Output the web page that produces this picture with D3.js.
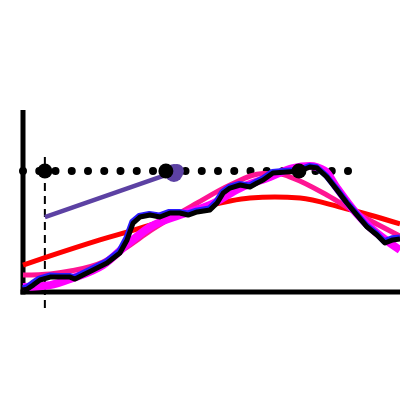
<!DOCTYPE html>
<html><head><meta charset="utf-8">
<script src="https://cdn.jsdelivr.net/npm/d3@7"></script>
<style>html,body{margin:0;padding:0;background:#fff;}svg{display:block;}</style>
</head><body>
<svg id="c" width="400" height="400"></svg>
<script>
// data (x, y) in chart units
const noisyBlack = [[0,1.1],[1.1,1.6],[2.7,3.8],[4.5,6.6],[7.2,8.2],[9.8,8.2],[12.5,8.2],[13.8,7.1],[15.9,9.3],[18.6,12.1],[22.3,15.9],[25.7,21.4],[27.6,28.6],[29.2,37.9],[31.0,41.2],[33.7,42.3],[36.3,41.2],[39.0,43.4],[41.6,43.4],[43.8,42.3],[46.2,44.0],[49.6,45.1],[51.5,48.9],[53.1,54.4],[54.9,57.1],[57.6,58.8],[60.2,57.7],[62.1,59.9],[63.7,61.5],[66.3,65.4],[70.0,65.9],[73.5,66.5],[76.1,68.7],[78.0,68.1],[80.6,63.2],[83.3,56.0],[85.9,48.9],[88.6,42.3],[91.3,35.7],[93.9,31.3],[96.0,26.9],[98.1,28.6],[100,29.1]];
const noisyBlue  = [[0,2.0],[1.0,2.7],[2.5,4.9],[4.3,7.4],[7.0,9.0],[9.6,8.8],[12.3,8.8],[13.6,8.0],[15.7,10.2],[18.4,13.0],[22.1,16.8],[25.5,22.3],[27.4,29.5],[29.0,38.6],[30.8,41.8],[33.5,42.9],[36.1,42.0],[38.8,44.0],[41.4,44.0],[43.6,43.1],[46.0,44.7],[49.4,45.9],[51.3,49.7],[52.9,55.0],[54.7,57.7],[57.4,59.4],[60.0,58.5],[61.9,60.6],[63.5,62.3],[66.1,66.0],[69.8,66.6],[73.3,67.1],[75.9,69.2],[77.8,68.7],[80.4,64.0],[83.1,56.9],[85.7,49.8],[88.4,43.2],[91.1,36.6],[93.7,32.2],[95.8,27.8],[97.9,29.5],[100,30.0]];
const fitRed     = [[0,14.8],[7.2,19.8],[20.4,28.6],[33.7,36.8],[46.9,46.2],[54.9,50.0],[60.2,51.6],[66.8,52.2],[73.5,51.6],[84.1,46.7],[92.0,42.3],[100,37.4]];
const fitPink    = [[0,9.3],[7.2,9.9],[12.5,11.5],[21.2,16.5],[27.6,24.7],[33.7,33.5],[46.2,48.9],[54.9,58.8],[63.7,65.1],[68.2,64.8],[71.6,62.6],[80.6,53.3],[89.4,42.3],[100,30.8]];
const fitMagenta = [[0,2.7],[7.2,3.8],[13.3,7.7],[21.2,14.8],[28.4,27.5],[33.7,35.7],[41.6,42.3],[49.6,47.8],[57.6,57.1],[65.5,63.2],[71.6,68.1],[76.1,69.2],[80.1,66.5],[83.3,57.1],[88.1,44.0],[92.0,35.7],[100,23.1]];
const peakLevel = 66.5;
const dottedEnd = 87;
const markerX = 5.8;
const bigDotsX = [5.8, 37.9, 73.2];
const purpleStart = [5.8, 41.2];
const purpleEnd = [39.5, 65.4];

const svg = d3.select('#c');
const x = d3.scaleLinear().domain([0,100]).range([23,400]);
const y = d3.scaleLinear().domain([0,100]).range([292,110]);
const line = d3.line().x(d=>x(d[0])).y(d=>y(d[1])).curve(d3.curveMonotoneX);
const lineLin = d3.line().x(d=>x(d[0])).y(d=>y(d[1]));

// axes
svg.append('line').attr('x1',x(0)).attr('x2',x(0)).attr('y1',y(100)).attr('y2',y(0)+2.5)
  .attr('stroke','#000').attr('stroke-width',5);
svg.append('line').attr('x1',x(0)-2.5).attr('x2',400).attr('y1',y(0)).attr('y2',y(0))
  .attr('stroke','#000').attr('stroke-width',5);

// dotted horizontal line
svg.append('line').attr('x1',x(0)).attr('x2',x(dottedEnd)).attr('y1',y(peakLevel)).attr('y2',y(peakLevel))
  .attr('stroke','#000').attr('stroke-width',8).attr('stroke-linecap','round').attr('stroke-dasharray','0,16.25');

// dashed vertical
svg.append('line').attr('x1',x(markerX)).attr('x2',x(markerX)).attr('y1',157).attr('y2',308)
  .attr('stroke','#000').attr('stroke-width',2).attr('stroke-dasharray','8,5');

// curves
svg.append('path').datum(fitRed).attr('d',line).attr('fill','none').attr('stroke','#ff0000').attr('stroke-width',5);
svg.append('path').datum(fitPink).attr('d',line).attr('fill','none').attr('stroke','#ff1493').attr('stroke-width',5);
svg.append('path').datum(fitMagenta).attr('d',line).attr('fill','none').attr('stroke','#ff00ff').attr('stroke-width',8);
svg.append('path').datum(noisyBlue).attr('d',lineLin).attr('fill','none').attr('stroke','#2a1aff').attr('stroke-width',6).attr('stroke-linejoin','round');
svg.append('path').datum(noisyBlack).attr('d',lineLin).attr('fill','none').attr('stroke','#000').attr('stroke-width',5).attr('stroke-linejoin','round');

// purple line and dot
svg.append('path').datum([purpleStart,purpleEnd]).attr('d',lineLin).attr('fill','none').attr('stroke','#5c41a3').attr('stroke-width',4.5);
svg.append('circle').attr('cx',x(purpleEnd[0])+2).attr('cy',y(purpleEnd[1])).attr('r',9).attr('fill','#5c41a3');
svg.append('circle').attr('cx',x(purpleEnd[0])+5).attr('cy',y(purpleEnd[1])-2).attr('r',7).attr('fill','#5c41a3');

// big black dots
svg.selectAll('circle.big').data(bigDotsX).enter().append('circle').attr('class','big')
  .attr('cx',d=>x(d)).attr('cy',y(peakLevel)).attr('r',7.5).attr('fill','#000');
</script>
</body></html>
